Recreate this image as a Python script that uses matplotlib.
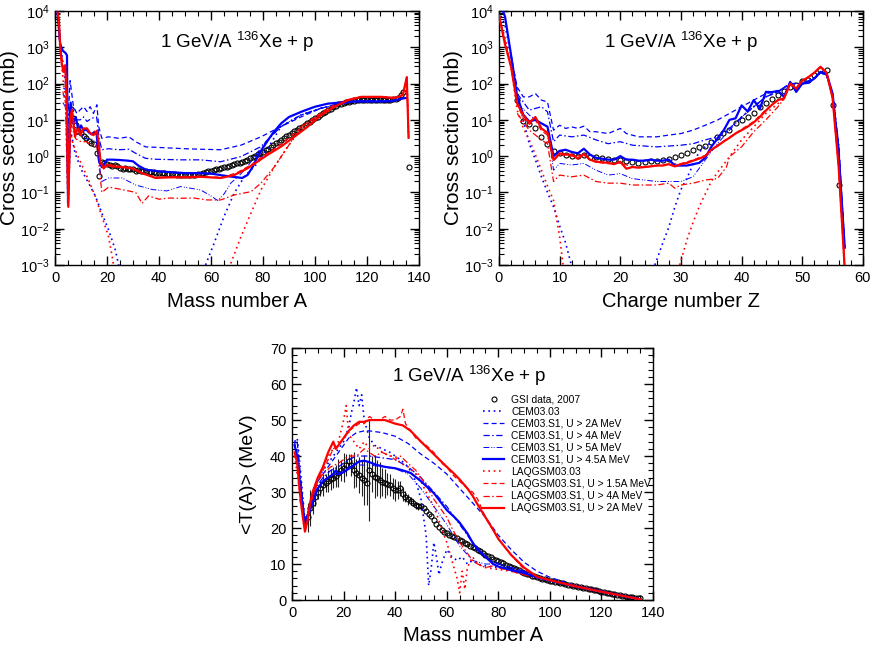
import numpy as np
import matplotlib
matplotlib.use('Agg')
import matplotlib.pyplot as plt
from matplotlib.ticker import MultipleLocator, LogLocator, NullFormatter
from matplotlib.lines import Line2D

plt.rcParams['font.family'] = ['Liberation Sans', 'DejaVu Sans']
plt.rcParams['mathtext.fontset'] = 'custom'
plt.rcParams['mathtext.rm'] = 'Liberation Sans'
plt.rcParams['mathtext.it'] = 'Liberation Sans:italic'
plt.rcParams['mathtext.default'] = 'regular'

nan = np.nan
title = '1 GeV/A $^{136}$Xe + p'

# ---------------- panel 1 : cross section vs mass number A ----------------
gsi_A = list(range(6, 135)) + [136]
gsi_sA = [20, 11, 7, 5, 4.3, 3.5, 3.1, 2.6, 2.3, 2.1,
          1.2, 0.29, 0.7, 0.64, 0.6, 0.58, 0.55, 0.57, 0.52, 0.48,
          0.43, 0.46, 0.44, 0.43, 0.45, 0.4, 0.41, 0.39, 0.38, 0.38,
          0.37, 0.36, 0.36, 0.35, 0.35, 0.34, 0.34, 0.33, 0.33, 0.32,
          0.32, 0.31, 0.31, 0.3, 0.3, 0.3, 0.3, 0.31, 0.31, 0.32,
          0.33, 0.34, 0.36, 0.38, 0.39, 0.41, 0.43, 0.45, 0.47, 0.49,
          0.51, 0.54, 0.57, 0.6, 0.63, 0.66, 0.7, 0.75, 0.8, 0.87,
          0.95, 1.03, 1.12, 1.22, 1.33, 1.45, 1.6, 1.8, 2.0, 2.25,
          2.5, 2.8, 3.1, 3.5, 3.9, 4.3, 4.8, 5.3, 5.9, 6.5,
          7.3, 8.0, 8.9, 9.8, 11, 12.2, 13.4, 15, 16.5, 18.5,
          20.5, 22.5, 24.5, 26.5, 28, 30, 31, 32, 33, 34,
          34.5, 35, 35.5, 35.5, 36, 36, 36, 36, 36, 36,
          36, 36, 36, 36, 36.5, 37, 40, 48, 60,
          0.5]

cem45_A = [1, 2, 3, 4, 4.6, 5, 6, 7, 8, 9, 10, 11, 12, 13, 14, 15, 16, 17, 18, 20,
           22, 25, 28, 30, 32, 35, 40, 45, 50, 55, 60, 65, 70, 72, 74, 76, 78, 80, 82, 84,
           87, 90, 95, 100, 105, 110, 115, 120, 125, 130, 133, 135]
cem45_sA = [9000, 1200, 800, 700, 600, 0.05, 30, 8, 12, 5, 7, 5, 5.5, 4.5, 4, 4.5, 4, 0.7, 0.5, 0.8,
            0.8, 0.78, 0.75, 0.72, 0.55, 0.42, 0.38, 0.36, 0.34, 0.34, 0.33, 0.29, 0.26, 0.25, 0.3, 0.5, 1.0, 1.7, 2.8, 4.5,
            8, 12, 17, 23, 28, 30, 32, 32, 32, 33, 38, 40]

lq2_A = [1, 1.5, 2, 2.6, 3.2, 3.9, 4.5, 5.1, 5.8, 6.5, 7.1, 7.7, 8.4, 9, 9.7, 11, 12.3, 13.5, 14.8, 16.1,
         16.8, 17.4, 18.7, 20, 22, 25.8, 29.7, 33.5, 38.7, 43.9, 50.3, 56, 63.7, 68.9, 74, 81.7, 86.9, 92, 97.2, 102.4,
         107.5, 112.7, 117.8, 125.5, 130.6, 133.8, 135.3, 136]
lq2_sA = [9000, 5600, 1000, 360, 210, 320, 35, 0.04, 10, 19, 8, 3.4, 5.2, 5.8, 3.8, 5.8, 5.8, 4.3, 3.8, 5,
          2.3, 0.7, 0.46, 0.57, 0.52, 0.5, 0.46, 0.34, 0.25, 0.26, 0.26, 0.27, 0.25, 0.3, 0.46, 1.08, 1.83, 3.4, 6.5, 13.6,
          23, 35, 43, 43, 40, 48, 150, 3.2]

cem2_A = [3.2, 4.5, 5.2, 5.8, 7.1, 8.4, 9.7, 11, 12.3, 13.5, 14.8, 16.1, 16.8, 18, 20.6, 24.5, 28.4, 31, 34.8, 38.7,
          50, 56, 63.7, 71.5, 79.2, 86.9, 94.6, 102.4, 110, 115, 120, 125, 130, 133, 135]
cem2_sA = [74, 67, 19, 120, 23, 15, 19, 23, 17, 23, 15, 26, 6.5, 3.1, 3.4, 3.1, 3.4, 2.5, 1.8, 1.75,
           1.6, 1.55, 1.5, 2.0, 3.4, 6.5, 12, 21, 28, 32, 33, 33, 34, 38, 40]

cem4_A = [3, 4.5, 5.2, 6, 7, 8, 9.7, 11, 12.3, 14, 16, 17, 18, 20.6, 24.5, 28.4, 31, 34.8, 38.7, 48.3,
          56, 63.7, 71.5, 79.2, 86.9, 94.6, 102.4, 110, 115, 120, 125, 130, 133, 135]
cem4_sA = [50, 40, 8, 25, 12, 10, 10, 12, 9, 11, 12, 3, 1.5, 1.6, 1.5, 1.55, 1.2, 0.87, 0.82, 0.79,
           0.79, 0.7, 0.97, 1.83, 6.5, 13.6, 21, 28, 32, 33, 33, 34, 38, 40]

cem5_A = [3, 4.5, 5.2, 6, 8, 10, 12, 14, 16, 17, 18, 20.6, 25.8, 31, 37.4, 43, 48.3, 56, 60, 62.6,
          65, 67.6, 71, 74, 78, 81.7, 86.9, 94.6, 102.4, 110, 115, 120, 125, 130, 133, 135]
cem5_sA = [30, 20, 5, 10, 4, 4, 3, 3, 2.3, 0.6, 0.2, 0.25, 0.25, 0.16, 0.12, 0.11, 0.145, 0.117, 0.08, 0.06,
           0.09, 0.18, 0.3, 0.51, 1.3, 2.8, 6.5, 13.6, 21, 28, 32, 33, 33, 34, 38, 40]

cem03_A = [1, 2, 3, 4, 5, 6, 7.7, 10.3, 12.9, 15.5, 18, 20.6, 23.2, 24.6, nan, 57.9, 61.2, 65, 68.9, 72.8,
           77.9, 83.1, 86.9, 94.6, 102.4, 110, 115, 120, 125, 130, 133, 135]
cem03_sA = [9000, 1500, 400, 100, 15, 5, 1.2, 0.4, 0.18, 0.08, 0.027, 0.0093, 0.0026, 0.0009, nan, 0.001, 0.004, 0.0216, 0.095, 0.27,
            0.64, 2.3, 6.5, 13.6, 21, 28, 32, 33, 33, 34, 38, 40]

lq03_A = [1, 2, 3, 4, 5, 6, 6.5, 7.7, 10.3, 12.9, 15.5, 18, 20.6, 22, 22.6, nan, 67.6, 71.5, 75.4, 79.2,
          84.4, 89.5, 93.4, 97.2, 102.4, 107.5, 112.7, 117.8, 125.5, 130.6, 133.8, 135.3, 136]
lq03_sA = [7000, 800, 150, 40, 0.04, 5, 2.8, 1.5, 0.57, 0.22, 0.077, 0.022, 0.006, 0.0017, 0.0009, nan, 0.0011, 0.006, 0.027, 0.117,
           0.51, 1.83, 4.3, 8, 13.6, 23, 35, 43, 43, 40, 48, 150, 3.2]

lq4_A = [3, 4, 5, 6, 8, 10, 12, 14, 16, 17, 18, 20.6, 25.8, 31, 33.5, 36, 40, 44, 48.3, 53.4,
         58.5, 63.7, 68.9, 75.4, 79.2, 84.4, 89.5, 94.6, 102.4, 107.5, 112.7, 117.8, 125.5, 130.6, 133.8, 135.3, 136]
lq4_sA = [60, 30, 0.05, 8, 3, 2.5, 2.5, 2, 2, 0.5, 0.1, 0.14, 0.12, 0.1, 0.05, 0.08, 0.065, 0.07, 0.069, 0.07,
          0.062, 0.062, 0.085, 0.105, 0.18, 0.51, 1.8, 6.5, 15, 23, 35, 43, 43, 40, 48, 150, 3.2]

lq15_A = [2, 3, 4, 5, 6, 7, 8, 10, 12, 14, 16, 17, 18, 20, 25, 30, 35, 40, 45, 50,
          55, 60, 65, 70, 75, 80, 85, 90, 95, 100, 105, 110, 115, 120, 125, 130, 133.8, 135.3, 136]
lq15_sA = [1500, 300, 250, 0.06, 30, 8, 4.5, 5, 6, 4, 5.5, 2, 0.45, 0.6, 0.52, 0.45, 0.3, 0.26, 0.27, 0.27,
           0.28, 0.26, 0.27, 0.35, 0.55, 1.0, 1.7, 3.2, 6.5, 12, 21, 32, 40, 43, 43, 40, 50, 150, 3.2]

# ---------------- panel 2 : cross section vs charge number Z ----------------
gsi_Z = list(range(3, 57))
gsi_sZ = [35, 9.4, 7.6, 5.8, 3.3, 2.1, 1.4, 1.2, 1.05, 1.0,
          1.0, 1.05, 0.95, 0.92, 0.9, 0.85, 0.78, 0.8, 0.72, 0.7,
          0.66, 0.68, 0.72, 0.74, 0.78, 0.86, 0.92, 1.06, 1.2, 1.45,
          1.8, 1.9, 2.5, 3.3, 4.4, 5.4, 8.3, 9.8, 12, 15.6,
          22, 29, 38, 48, 63, 78, 90, 116, 124, 170,
          242, 233, 25, 0.16]

Z_int = list(range(0, 58))
cem45_sZ = [20000, 7000, 600, 45, 14, 9, 10, 8, 6.5, 1.0,
            1.4, 1.5, 1.3, 1.2, 1.6, 1.1, 0.9, 0.85, 0.8, 0.8,
            1.0, 0.8, 0.8, 0.75, 0.75, 0.8, 0.75, 0.75, 0.8, 0.55,
            0.55, 0.55, 0.6, 0.65, 0.9, 1.8, 3, 5, 10, 11,
            25, 17, 35, 20, 59, 58, 63, 43, 111, 59,
            100, 105, 138, 210, 190, 53, 1.2, 0.003]
lq2_sZ = [7600, 1200, 290, 28, 13.5, 8.3, 12, 5.8, 4.4, 0.78,
          1.2, 1.1, 1.1, 0.85, 1.15, 0.8, 0.7, 0.68, 0.65, 0.6,
          0.7, 0.45, 0.5, 0.48, 0.5, 0.52, 0.55, 0.55, 0.6, 0.52,
          0.6, 0.65, 0.75, 0.85, 1.0, 1.5, 1.9, 2.5, 3.2, 4.2,
          5.2, 6.5, 8.5, 12, 18, 26, 35, 39, 100, 73,
          120, 150, 200, 290, 200, 40, 0.5, 0.0008]

cem2_Z = [2, 3, 4, 5, 6, 7, 8, 9, 10, 11, 12, 13, 14, 15, 16, 18, 20, 21, 23, 26,
          28, 30, 32, 34, 36, 38, 40, 42, 44, 46, 48, 50, 52, 53, 54, 55, 56, 57]
cem2_sZ = [600, 80, 43, 43, 53, 35, 31, 5.2, 7.1, 5.8, 6.4, 5.8, 6.7, 4.7, 4.7, 4.2, 5.8, 4.2, 3.4, 3.4,
           3.8, 4.2, 5.2, 7.1, 9.8, 15, 23, 35, 53, 60, 100, 100, 140, 200, 170, 50, 2, 0.003]

cem4_Z = [3, 5, 7, 8, 9, 10, 12, 14, 16, 18, 20, 22, 26, 30, 32, 34, 36, 38, 40, 42,
          44, 46, 48, 50, 52, 53, 54, 55, 56, 57]
cem4_sZ = [53, 18.5, 23, 16.6, 2.5, 3.8, 3.4, 3.8, 2.8, 2.2, 2.5, 2.0, 1.8, 2.0, 2.2, 2.8, 3.4, 5.8, 12, 23,
           43, 60, 100, 100, 140, 200, 170, 50, 2, 0.003]
cem5_Z = cem4_Z
cem5_sZ = [30, 13.5, 7.9, 6.4, 0.41, 0.63, 0.57, 0.63, 0.41, 0.3, 0.33, 0.24, 0.2, 0.2, 0.27, 0.78, 2.2, 5.2, 12, 23,
           43, 60, 100, 100, 140, 200, 170, 50, 2, 0.003]

cem03_Z = [0, 1, 2, 3, 4, 5, 6, 7, 8, 9, 10, 11, 12, nan,
           25.7, 27, 28, 29, 30, 31, 32, 33, 34, 35, 36, 38, 40, 42, 44, 46, 48, 50, 52, 53, 54, 55, 56, 57]
cem03_sZ = [10000, 4000, 600, 60, 10, 2.2, 0.8, 0.27, 0.1, 0.04, 0.012, 0.004, 0.0009, nan,
            0.001, 0.004, 0.011, 0.04, 0.12, 0.25, 0.6, 1.3, 1.8, 2.4, 3.2, 5.5, 12, 23, 43, 60, 100, 100, 140, 200, 170, 50, 2, 0.003]

lq03_Z = [0, 1, 2, 3, 4, 5, 6, 7, 8, 9, 10, 10.6, nan, 29.8, 31, 32, 33, 34, 35, 36,
          38, 40, 42, 44, 46, 47, 48, 49, 50, 51, 52, 53, 54, 55, 56, 57]
lq03_sZ = [7000, 1800, 290, 18.5, 6, 2.8, 1.1, 0.41, 0.15, 0.06, 0.006, 0.0009, nan, 0.001, 0.005, 0.015, 0.04, 0.09, 0.2, 0.35,
           0.96, 2.8, 6.4, 15, 28, 38, 100, 70, 120, 150, 200, 290, 200, 40, 0.5, 0.0008]

lq4_Z = [3, 5, 7, 8, 9, 10, 12, 14, 16, 18, 20, 22, 26, 28, 29, 30, 32, 34, 36, 37.5,
         38, 40, 42, 44, 46, 47, 48, 49, 50, 51, 52, 53, 54, 55, 56, 57]
lq4_sZ = [15, 5.2, 2.8, 2.2, 0.2, 0.3, 0.27, 0.3, 0.2, 0.18, 0.18, 0.16, 0.16, 0.18, 0.13, 0.16, 0.18, 0.22, 0.24, 0.5,
          0.96, 1.8, 4.7, 10, 23, 38, 100, 70, 120, 150, 200, 290, 200, 40, 0.5, 0.0008]

lq15_Z = [0, 1, 2, 3, 4, 5, 6, 7, 8, 9, 10, 12, 14, 16, 18, 20, 22, 24, 26, 28,
          30, 32, 34, 36, 38, 40, 42, 44, 46, 47, 48, 49, 50, 51, 52, 53, 54, 55, 56, 57]
lq15_sZ = [8000, 1500, 320, 28, 11, 7.5, 10, 5, 3.8, 0.75, 1.1, 1.0, 1.05, 0.68, 0.62, 0.66, 0.5, 0.5, 0.55, 0.6,
           0.62, 0.78, 1.05, 2.0, 3.3, 5.5, 9, 19, 36, 40, 95, 72, 115, 150, 200, 280, 200, 40, 0.5, 0.0008]

# ---------------- panel 3 : mean kinetic energy vs A ----------------
gsi_TA = list(range(6, 136))
gsi_T = [23, 25.5, 27, 28.7, 30, 31, 32, 32.5, 33, 33.5,
         34, 34.5, 35.3, 36, 36.8, 37.5, 38.5, 37.5, 36, 35.3,
         34.7, 34, 33.3, 32.5, 36, 35, 34.3, 33.8, 33.3, 32.8,
         32.4, 32.2, 32, 31, 30.5, 30.5, 31, 29.5, 28.7, 28,
         27.5, 27, 26.3, 26, 26, 25.5, 24.8, 24, 23.3, 22.2,
         21, 20.3, 19.5, 19, 18.7, 18.2, 17.8, 17.4, 17.1, 16.7,
         16.3, 15.8, 15.5, 15.1, 14.8, 14.4, 14, 13.5, 13, 12.6,
         12.2, 11.9, 11.5, 11.1, 10.8, 10.5, 10.2, 9.8, 9.4, 9.1,
         8.8, 8.5, 8.2, 7.9, 7.6, 7.3, 7.1, 6.8, 6.6, 6.3,
         6.1, 5.9, 5.7, 5.5, 5.4, 5.2, 5.05, 4.9, 4.75, 4.6,
         4.45, 4.3, 4.15, 4.0, 3.85, 3.7, 3.55, 3.4, 3.25, 3.1,
         2.95, 2.8, 2.65, 2.5, 2.35, 2.2, 2.05, 1.9, 1.75, 1.6,
         1.45, 1.3, 1.15, 1.0, 0.9, 0.8, 0.7, 0.6, 0.55, 0.5]
gsi_T_err = [4, 5, 3, 2.5, 2, 2, 3, 2.5, 3, 3,
             3, 3, 4, 3, 4, 3, 2, 3, 5, 4,
             5, 5, 7, 6, 14, 5, 6, 5, 5, 4,
             4, 3, 3, 3, 3, 2.5, 2, 2, 1.5, 1.5,
             1.2, 1, 1, 1, 1]

cem03_TA = [1, 2, 3, 4, 5, 6, 8, 10, 12, 14, 16, 18, 20, 22, 23, 24, 25, 26, 27, 28,
            30, 32, 35, 38, 40, 42, 45, 48, 50, 52, 53, 54, 55, 56, 57, 58, 60, 62, 64, 66,
            68, 70, 72, 75, 80, 85, 90, 95, 100, 110, 120, 130, 135]
cem03_T = [44, 45, 38, 30, 22, 24, 29, 34, 36, 38, 40, 42, 44, 48, 52, 55, 59, 54, 57, 50,
           45, 43, 42, 41, 40, 39, 37, 33, 28, 18, 4, 9, 16, 12, 7, 10, 14, 12, 11, 12,
           10, 11, 10, 9.5, 9, 8.5, 7.5, 6.5, 5.5, 4, 2.5, 1, 0.3]

cem2_TA = [1, 3, 5, 6, 8, 10, 12, 15, 18, 20, 22, 25, 28, 30, 35, 40, 45, 50, 55, 60,
           65, 70, 75, 80, 85, 90, 95, 100, 110, 120, 130, 135]
cem2_T = [44, 33, 22, 24, 29, 33, 35, 38, 41, 43, 45, 46.5, 47, 47, 46.5, 45.5, 43.5, 40.5, 38, 35,
          31, 27, 23, 18, 14, 10.5, 8, 6.3, 4, 2.5, 1, 0.3]

cem4_TA = [2, 5, 8, 10, 12, 15, 18, 20, 22, 25, 28, 30, 35, 40, 45, 50, 55, 60, 65, 70,
           75, 80, 85, 90, 95, 100, 110, 120, 130, 135]
cem4_T = [44, 21, 28, 32, 34, 36, 37, 38, 39, 40, 40, 40, 39.5, 39, 37, 34, 30, 26, 21, 16,
          12, 10, 9, 8, 6.5, 5.5, 3.8, 2.3, 0.9, 0.2]
cem5_TA = cem4_TA
cem5_T = [44, 21, 27, 31, 33, 34.5, 35, 36, 37, 37.5, 37.5, 37.5, 37, 36.5, 35, 31, 26, 21, 15, 11,
          10, 10, 9, 8, 6.5, 5.5, 3.8, 2.3, 0.9, 0.2]

cem45_TA = [1, 2, 3, 4, 5, 6, 8, 10, 12, 14, 16, 17, 18, 20, 22, 24, 26, 28, 30, 33,
            36, 40, 43, 46, 50, 55, 60, 63, 65, 68, 70, 72, 75, 78, 80, 85, 90, 95, 100, 110,
            120, 130, 135]
cem45_T = [43, 40, 33, 27, 21, 23, 27, 31, 33, 34, 35, 36, 35, 35.5, 36.5, 37.5, 38.5, 38.7, 38.3, 37.5,
           37, 36.6, 36, 35.3, 33, 29.7, 25, 23, 21.5, 18.5, 16, 14, 12, 10, 9.3, 8.3, 7.5, 6.3, 5.4, 3.8,
           2.3, 0.9, 0.2]

lq03_TA = [1, 3, 5, 6, 8, 10, 12, 14, 16, 18, 20, 21, 22, 24, 26, 28, 30, 32, 35, 38,
           40, 42, 45, 48, 50, 52, 55, 58, 60, 62, 64, 65, 66, 67, 68, 70, 72, 75, 80, 85,
           90, 95, 100, 110, 120, 130, 135]
lq03_T = [40, 30, 20, 24, 30, 34, 37, 40, 42, 44, 50, 54, 46, 44, 42, 44, 42, 43, 41, 40,
          40, 38, 37, 35, 33, 30, 26, 20, 16, 11, 6, 2, 8, 3, 9, 12, 10, 9, 8.5, 8,
          7, 6.5, 5.5, 4, 2.5, 1, 0.3]

lq15_TA = [3, 5, 6, 8, 10, 12, 14, 16, 18, 20, 22, 24, 26, 28, 30, 32, 34, 36, 38, 40,
           42, 43, 44, 46, 48, 50, 52, 55, 58, 60, 62, 65, 68, 70, 72, 75, 80, 85, 90, 95,
           100, 110, 120, 130, 135]
lq15_T = [28, 20, 23, 29, 33, 36, 39, 42, 43, 45, 47, 48, 49, 49, 51, 50, 50, 51, 50, 50,
          51, 53, 49, 47, 45, 44, 43, 41, 38, 37, 35, 33, 31, 30, 28, 23, 17, 12.5, 8.5, 6.5,
          5.5, 3.8, 2.3, 0.9, 0.2]

lq4_TA = [5, 8, 10, 12, 15, 18, 20, 22, 25, 28, 30, 32, 35, 38, 40, 42, 45, 48, 50, 52,
          55, 58, 60, 62, 65, 68, 70, 72, 75, 78, 80, 85, 90, 95, 100, 110, 120, 130, 135]
lq4_T = [20, 28, 33, 35, 37, 38, 39, 40, 40, 42, 41, 40, 41, 40, 39, 40, 38, 36, 34, 32,
         28, 25, 23, 20, 16, 13, 11, 10, 9, 9.5, 9, 8, 7, 6.2, 5.5, 3.8, 2.3, 0.9, 0.2]

lq2_TA = [1, 2, 3, 4, 5, 6, 7, 8, 10, 12, 14, 16, 17, 18, 20, 22, 24, 26, 28, 30,
          33, 36, 40, 43, 46, 50, 55, 60, 63, 65, 68, 70, 72, 75, 78, 80, 85, 90, 95, 100,
          110, 120, 130, 135]
lq2_T = [41, 38, 30, 24, 19, 22, 27, 30, 34, 37, 41, 44, 42, 43, 45, 47, 48.5, 49.5, 49.5, 50,
         50, 50, 49, 48.5, 47, 44, 40.5, 37, 35, 33.5, 31, 29, 26.5, 23, 19.5, 17, 12.5, 9, 6.5, 5.5,
         3.8, 2.3, 0.9, 0.2]

# ---------------- styles ----------------
order = ['cem03', 'cem2', 'cem4', 'cem5', 'cem45', 'lq03', 'lq15', 'lq4', 'lq2']
labels = {'cem03': 'CEM03.03',
          'cem2': 'CEM03.S1, U > 2A MeV',
          'cem4': 'CEM03.S1, U > 4A MeV',
          'cem5': 'CEM03.S1, U > 5A MeV',
          'cem45': 'CEM03.S1, U > 4.5A MeV',
          'lq03': 'LAQGSM03.03',
          'lq15': 'LAQGSM03.S1, U > 1.5A MeV',
          'lq4': 'LAQGSM03.S1, U > 4A MeV',
          'lq2': 'LAQGSM03.S1, U > 2A MeV'}
sty = {'cem03': dict(color='blue', ls=(0, (1, 2.2)), lw=1.2),
       'cem2': dict(color='blue', ls=(0, (4, 2.5)), lw=0.9),
       'cem4': dict(color='blue', ls=(0, (5, 2, 1.2, 2)), lw=0.9),
       'cem5': dict(color='blue', ls=(0, (6, 2, 1, 1.5, 1, 2)), lw=0.7),
       'cem45': dict(color='blue', ls='-', lw=1.6),
       'lq03': dict(color='red', ls=(0, (1, 2.2)), lw=1.2),
       'lq15': dict(color='red', ls=(0, (4, 2.5)), lw=0.9),
       'lq4': dict(color='red', ls=(0, (5, 2, 1.2, 2)), lw=0.9),
       'lq2': dict(color='red', ls='-', lw=1.6)}
gsi_sty = dict(ls='none', marker='o', mfc='none', mec='black', ms=3.6, mew=0.8)

fig = plt.figure(figsize=(8.72, 6.46), dpi=100)
ax1 = fig.add_axes([0.0631, 0.5898, 0.4174, 0.3932])
ax2 = fig.add_axes([0.5722, 0.5898, 0.4174, 0.3932])
ax3 = fig.add_axes([0.3349, 0.0712, 0.4140, 0.3900])

panels = [
    (ax1, {'cem03': (cem03_A, cem03_sA), 'cem2': (cem2_A, cem2_sA), 'cem4': (cem4_A, cem4_sA),
           'cem5': (cem5_A, cem5_sA), 'cem45': (cem45_A, cem45_sA), 'lq03': (lq03_A, lq03_sA),
           'lq15': (lq15_A, lq15_sA), 'lq4': (lq4_A, lq4_sA), 'lq2': (lq2_A, lq2_sA)},
     (gsi_A, gsi_sA)),
    (ax2, {'cem03': (cem03_Z, cem03_sZ), 'cem2': (cem2_Z, cem2_sZ), 'cem4': (cem4_Z, cem4_sZ),
           'cem5': (cem5_Z, cem5_sZ), 'cem45': (Z_int, cem45_sZ), 'lq03': (lq03_Z, lq03_sZ),
           'lq15': (lq15_Z, lq15_sZ), 'lq4': (lq4_Z, lq4_sZ), 'lq2': (Z_int, lq2_sZ)},
     (gsi_Z, gsi_sZ)),
    (ax3, {'cem03': (cem03_TA, cem03_T), 'cem2': (cem2_TA, cem2_T), 'cem4': (cem4_TA, cem4_T),
           'cem5': (cem5_TA, cem5_T), 'cem45': (cem45_TA, cem45_T), 'lq03': (lq03_TA, lq03_T),
           'lq15': (lq15_TA, lq15_T), 'lq4': (lq4_TA, lq4_T), 'lq2': (lq2_TA, lq2_T)},
     (gsi_TA, gsi_T)),
]

for ax, curves, (gx, gy) in panels:
    if ax is ax3:
        n = len(gsi_T_err)
        ax.errorbar(gx[:n], gy[:n], yerr=gsi_T_err, fmt='none', ecolor='#222222',
                    elinewidth=0.8, capsize=0, zorder=2)
    ax.plot(gx, gy, zorder=3, **gsi_sty)
    for key in order:
        x, y = curves[key]
        ax.plot(x, y, zorder=4 if sty[key]['ls'] == '-' else 3, **sty[key])

for ax in (ax1, ax2):
    ax.set_yscale('log')
    ax.set_ylim(1e-3, 1e4)
    ax.yaxis.set_major_locator(LogLocator(base=10, numticks=10))
    ax.yaxis.set_minor_locator(LogLocator(base=10, subs=np.arange(2, 10), numticks=20))
    ax.yaxis.set_minor_formatter(NullFormatter())
    ax.set_ylabel('Cross section (mb)', fontsize=15)
    ax.yaxis.set_label_coords(-0.10, 0.5)
    ax.text(0.50, 0.88, title, transform=ax.transAxes, ha='center', va='center', fontsize=13.5)

ax1.set_xlim(0, 140)
ax1.xaxis.set_major_locator(MultipleLocator(20))
ax1.xaxis.set_minor_locator(MultipleLocator(5))
ax1.set_xlabel('Mass number A', fontsize=14.5)

ax2.set_xlim(0, 60)
ax2.xaxis.set_major_locator(MultipleLocator(10))
ax2.xaxis.set_minor_locator(MultipleLocator(2))
ax2.set_xlabel('Charge number Z', fontsize=14.5)

ax3.set_xlim(0, 140)
ax3.set_ylim(0, 70)
ax3.xaxis.set_major_locator(MultipleLocator(20))
ax3.xaxis.set_minor_locator(MultipleLocator(5))
ax3.yaxis.set_major_locator(MultipleLocator(10))
ax3.yaxis.set_minor_locator(MultipleLocator(2))
ax3.set_xlabel('Mass number A', fontsize=14.5)
ax3.set_ylabel('<T(A)> (MeV)', fontsize=14)
ax3.yaxis.set_label_coords(-0.097, 0.5)
ax3.text(0.49, 0.89, title, transform=ax3.transAxes, ha='center', va='center', fontsize=13.5)

for ax in (ax1, ax2, ax3):
    ax.xaxis.set_label_coords(0.5, -0.105)
    ax.tick_params(which='both', direction='in', top=True, right=True, labelsize=10.5, pad=4)
    ax.tick_params(which='major', length=6.5, width=1.0)
    ax.tick_params(which='minor', length=3.6, width=0.8)
    for s in ax.spines.values():
        s.set_linewidth(1.0)

handles = [Line2D([], [], **gsi_sty)] + [Line2D([], [], **sty[k]) for k in order]
leg_labels = ['GSI data, 2007'] + [labels[k] for k in order]
ax3.legend(handles, leg_labels, loc='upper left', bbox_to_anchor=(0.53, 0.815),
           frameon=False, fontsize=7.4, handlelength=2.0, handletextpad=0.7,
           labelspacing=0.2, borderpad=0, borderaxespad=0, numpoints=1)

fig.savefig('out.png', dpi=100)
